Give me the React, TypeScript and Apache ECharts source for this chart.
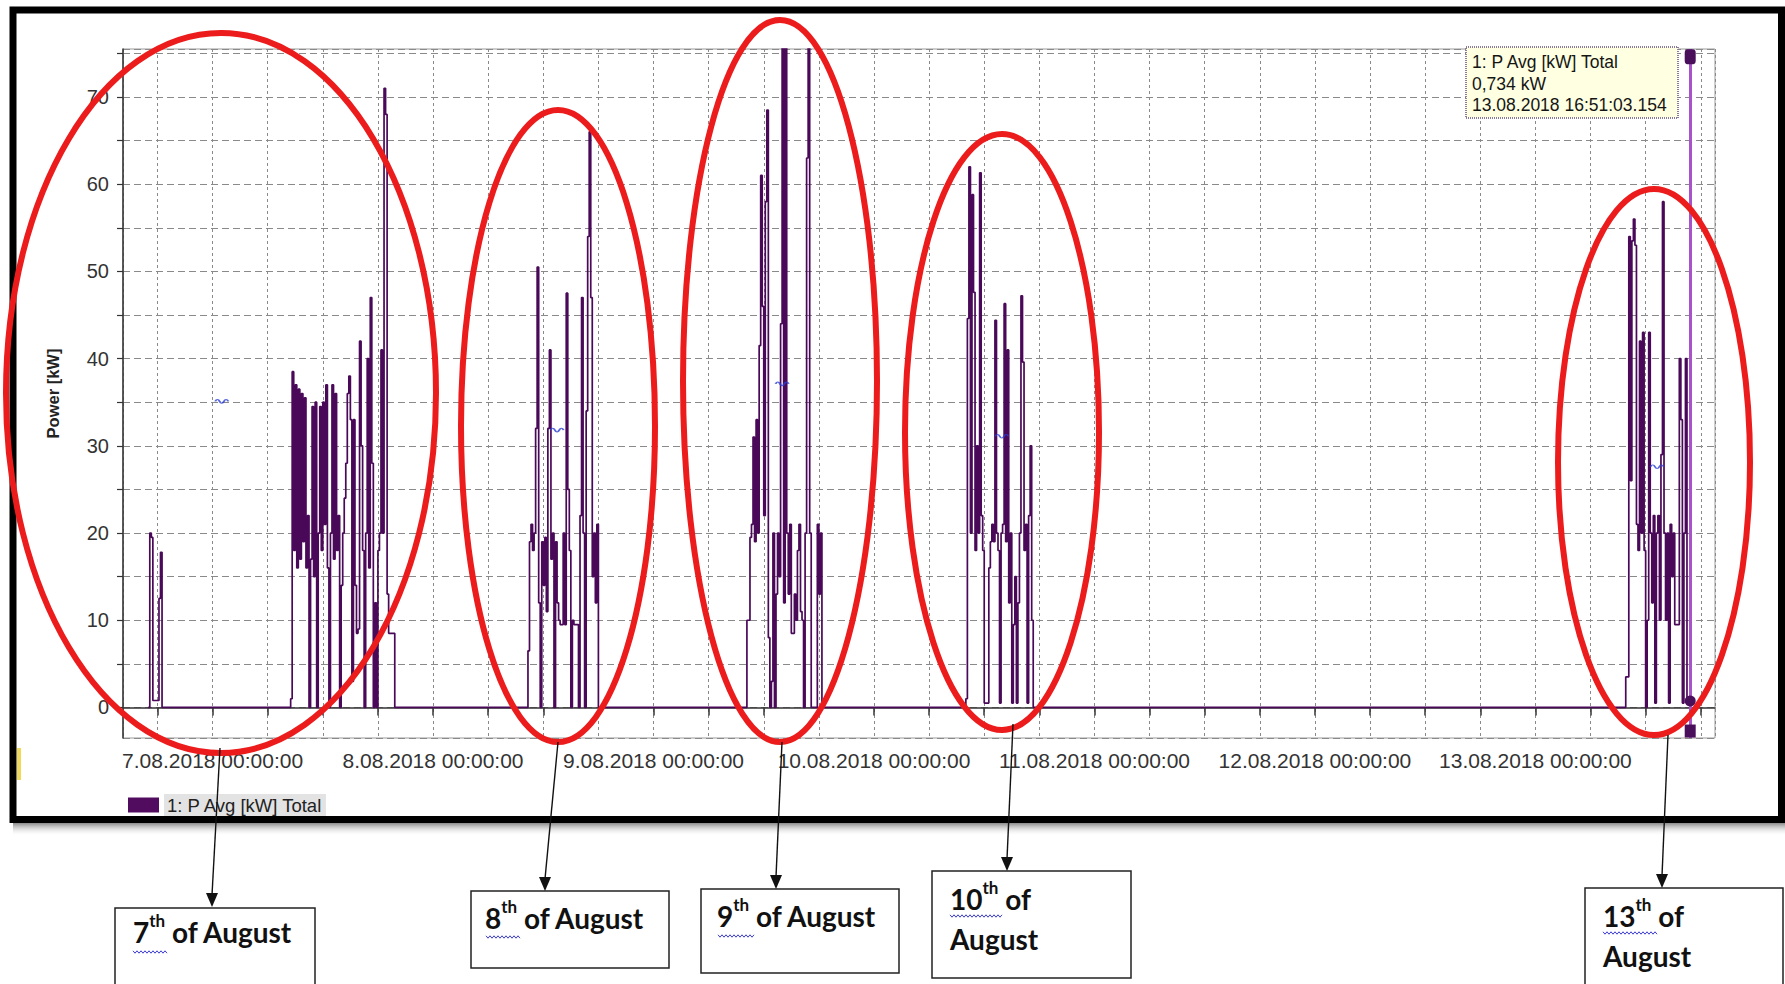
import React, { useEffect, useRef } from 'react';
import * as echarts from 'echarts';

// ---------------- data ----------------
const SERIES_NAME = '1: P Avg [kW] Total';
const STEP_MINUTES = 10;

const aug06Start = '2018-08-06 17:00';
const aug06Values = [0, 20, 19.5, 0.8, 0.8, 0.8, 0.8, 12.5, 17.8, 0];

const aug07Start = '2018-08-07 08:20';
const aug07Values = [
  0, 1.0, 38.5, 18, 37, 16, 36.5, 17, 36, 19,
  35.5, 16, 22, 0, 17, 34.5, 15, 35, 0, 20,
  34.5, 18, 35, 21, 37, 16, 0, 20, 37, 17,
  36, 18, 22, 0, 14, 20, 24, 28, 36, 38,
  33, 3, 33, 14, 8.5, 9, 42, 30, 18, 0,
  20, 40, 16, 47, 28, 0, 12, 0, 18, 20,
  41, 20, 71, 68, 13, 8.5, 8.5, 8.5, 8.5, 0,
];

const aug08Start = '2018-08-08 10:10';
const aug08Values = [
  0, 6.5, 19, 21, 18, 20, 32, 50.5, 12, 0,
  19, 14, 19.5, 11, 32, 41, 17, 20, 0, 19,
  12, 10, 9.5, 9.5, 20, 9.5, 47.5, 25, 18, 0,
  10, 9.5, 9.5, 9.5, 0, 22, 47, 20, 0, 34,
  54, 66, 47, 15, 20, 12, 21, 0,
];

const aug09Start = '2018-08-09 10:00';
const aug09Values = [
  0, 10, 10, 19.5, 21, 31, 19, 33, 20, 41.5,
  61, 46, 22, 58, 68.5, 8, 0, 3, 20, 0,
  13, 20, 15, 44, 78, 12, 78, 20, 13, 21,
  8.5, 8.5, 13, 10, 18, 21, 11, 10, 0, 20,
  63, 78, 20, 0, 0, 0, 0, 21, 13, 20,
  0,
];

const aug10Start = '2018-08-10 09:50';
const aug10Values = [
  0, 1, 44.6, 62, 20, 58.8, 47.6, 18, 30, 20,
  61.3, 22, 18, 0.5, 0.5, 0.5, 16, 19, 21, 19,
  44.4, 20, 18, 0.5, 20, 21, 46.3, 19, 41, 12,
  20, 0.5, 9.5, 15, 0.5, 12, 20, 47.2, 39.6, 18,
  21, 0.5, 22, 30, 10, 0,
];

const aug13Start = '2018-08-13 09:40';
const aug13Values = [
  0, 3.5, 3.5, 54, 26, 53.5, 56, 53, 21, 18,
  42, 20, 43, 18, 0, 10, 43, 20, 12, 22,
  0.5, 20, 22, 10, 29, 58, 20, 10, 20, 0.5,
  21, 15, 20, 9.5, 9.5, 9.5, 40, 33, 0.5, 20,
  40, 0.5, 1,
];

const cursorTime = '2018-08-13 16:51:03';
const cursorValue = 0.734;

const avgTimes = ['2018-08-07 01:00', '2018-08-08 13:30', '2018-08-09 14:00', '2018-08-10 13:55', '2018-08-13 13:15'];
const avgValues = [35.1, 31.8, 37.1, 31.1, 27.6];

const xMinTime = '2018-08-06 14:15';
const xMaxTime = '2018-08-13 19:33';
const yMin = -3.5;
const yMax = 75.5;

const tooltipLines = ['1: P Avg [kW] Total', '0,734 kW', '13.08.2018 16:51:03.154'];

// ---------------- helpers ----------------
function parseTime(s: string): number {
  const [d, t] = s.split(' ');
  const [Y, M, D] = d.split('-').map(Number);
  const parts = t.split(':').map(Number);
  return new Date(Y, M - 1, D, parts[0], parts[1], parts[2] || 0).getTime();
}

const bursts: [string, number[]][] = [
  [aug06Start, aug06Values],
  [aug07Start, aug07Values],
  [aug08Start, aug08Values],
  [aug09Start, aug09Values],
  [aug10Start, aug10Values],
  [aug13Start, aug13Values],
];

function buildSeriesData(): [number, number][] {
  const pts: [number, number][] = [];
  bursts.forEach(([start, vals]) => {
    const t0 = parseTime(start);
    vals.forEach((v, i) => pts.push([t0 + i * STEP_MINUTES * 60000, v]));
  });
  pts.push([parseTime(cursorTime) + 154, cursorValue]);
  return pts;
}

const RED = '#ec1c1c';
const FONT = 'Liberation Sans, Arial, sans-serif';
const NOTE_FONT = 'Lato, Open Sans, sans-serif';

function wavy(x1: number, x2: number, y: number) {
  const pts: number[][] = [];
  let up = true;
  for (let x = x1; x <= x2; x += 2) {
    pts.push([x, up ? y - 1.2 : y + 1.2]);
    up = !up;
  }
  return { type: 'polyline', z: 130, shape: { points: pts }, style: { stroke: '#3b3bd6', lineWidth: 1, fill: 'none' } };
}

function arrow(x1: number, y1: number, x2: number, y2: number) {
  return [
    { type: 'line', z: 125, shape: { x1, y1, x2, y2: y2 - 12 }, style: { stroke: '#111', lineWidth: 1.4 } },
    { type: 'polygon', z: 125, shape: { points: [[x2 - 6, y2 - 14], [x2 + 6, y2 - 14], [x2, y2]] }, style: { fill: '#111' } },
  ];
}

function box(x: number, y: number, w: number, h: number) {
  return { type: 'rect', z: 120, shape: { x, y, width: w, height: h }, style: { fill: '#fff', stroke: '#222', lineWidth: 1.5 } };
}

const richNote = {
  a: { fontSize: 28, fontWeight: 'bold', fontFamily: NOTE_FONT, fill: '#111', lineHeight: 40, verticalAlign: 'middle' },
  b: { fontSize: 17, fontWeight: 'bold', fontFamily: NOTE_FONT, fill: '#111', lineHeight: 24, verticalAlign: 'top' },
};

function note(x: number, y: number, text: string) {
  return { type: 'text', z: 130, x, y, style: { text, rich: richNote, align: 'left', verticalAlign: 'middle' } };
}

function ellipse(cx: number, cy: number, rx: number, ry: number) {
  return { type: 'ellipse', z: 110, shape: { cx, cy, rx, ry }, style: { fill: 'none', stroke: RED, lineWidth: 6 } };
}

function buildGraphic() {
  const els: any[] = [];
  els.push({
    type: 'rect', z: 90, shape: { x: 13, y: 823, width: 1772, height: 13 },
    style: { fill: new echarts.graphic.LinearGradient(0, 0, 0, 1, [{ offset: 0, color: '#8a8a8a' }, { offset: 1, color: 'rgba(255,255,255,0)' }]) },
  });
  els.push({ type: 'rect', z: 100, shape: { x: 13, y: 10, width: 1768.5, height: 809.5 }, style: { fill: 'none', stroke: '#000', lineWidth: 7 } });
  els.push({ type: 'rect', z: 101, shape: { x: 17, y: 748, width: 4, height: 32 }, style: { fill: '#f0d85a' } });

  els.push({ type: 'rect', z: 105, shape: { x: 1466, y: 47, width: 212, height: 71 }, style: { fill: '#ffffe1', stroke: '#8b7b9b', lineWidth: 2, lineDash: [1, 1] } });
  tooltipLines.forEach((t, i) => {
    els.push({ type: 'text', z: 106, x: 1472, y: 62 + i * 21.5, style: { text: t, fontSize: 17.5, fontFamily: FONT, fill: '#151515', align: 'left', verticalAlign: 'middle' } });
  });

  els.push(ellipse(221, 393, 215, 360));
  els.push(ellipse(558, 426, 97, 316));
  els.push(ellipse(780, 381, 97, 361));
  els.push(ellipse(1002, 432, 97, 298));
  els.push(ellipse(1654, 462, 96, 273));

  els.push(...arrow(220, 748, 212, 907));
  els.push(...arrow(558, 742, 545, 891));
  els.push(...arrow(782, 742, 776, 889));
  els.push(...arrow(1013, 724, 1007, 871));
  els.push(...arrow(1668, 735, 1662, 888));

  els.push(box(115, 908, 200, 100));
  els.push(box(471, 891, 198, 77));
  els.push(box(701, 889, 198, 84));
  els.push(box(932, 871, 199, 107));
  els.push(box(1585, 888, 198, 120));

  els.push(note(133, 932, '{a|7}{b|th}{a| of August}'));
  els.push(note(485, 918, '{a|8}{b|th}{a| of August}'));
  els.push(note(717, 916, '{a|9}{b|th}{a| of August}'));
  els.push(note(950, 919, '{a|10}{b|th}{a| of}\n{a|August}'));
  els.push(note(1603, 936, '{a|13}{b|th}{a| of}\n{a|August}'));

  els.push(wavy(133, 168, 952));
  els.push(wavy(486, 521, 937));
  els.push(wavy(718, 754, 936));
  els.push(wavy(950, 1003, 916));
  els.push(wavy(1603, 1657, 933));
  return els;
}

function buildOption(): any {
  const data = buildSeriesData();
  const tCursor = parseTime(cursorTime) + 154;
  return {
    animation: false,
    backgroundColor: '#ffffff',
    textStyle: { fontFamily: FONT },
    grid: { left: 123, top: 49, width: 1592, height: 689, show: true, borderColor: '#9a9a9a', borderWidth: 1, backgroundColor: '#ffffff' },
    legend: {
      data: [SERIES_NAME],
      left: 123,
      top: 789,
      icon: 'rect',
      itemWidth: 31,
      itemHeight: 15,
      textStyle: { fontSize: 18.5, color: '#222', fontFamily: FONT, backgroundColor: '#e3e3e3', padding: [2, 3, 1, 3] },
    },
    xAxis: {
      type: 'time',
      min: parseTime(xMinTime),
      max: parseTime(xMaxTime),
      minInterval: 12 * 3600 * 1000,
      maxInterval: 12 * 3600 * 1000,
      splitNumber: 15,
      axisLine: { show: true, lineStyle: { color: '#333', width: 1.5 } },
      axisTick: { show: true, length: 8, lineStyle: { color: '#333', width: 1.5 } },
      axisLabel: {
        show: true,
        color: '#333',
        fontSize: 21,
        fontFamily: FONT,
        margin: 12,
        hideOverlap: false,
        showMinLabel: false,
        showMaxLabel: false,
        formatter: (val: number) => {
          const d = new Date(val);
          if (d.getHours() === 0 && d.getMinutes() === 0 && d.getSeconds() === 0) {
            return `${d.getDate()}.${String(d.getMonth() + 1).padStart(2, '0')}.${d.getFullYear()} 00:00:00`;
          }
          return '';
        },
      },
      splitLine: { show: true, lineStyle: { color: '#8a8a8a', width: 1, type: [3, 3] } },
    },
    yAxis: {
      type: 'value',
      min: yMin,
      max: yMax,
      splitNumber: 16,
      minInterval: 5,
      maxInterval: 5,
      name: 'Power [kW]',
      nameLocation: 'middle',
      nameGap: 62,
      nameRotate: 90,
      nameTextStyle: { fontSize: 16.5, fontWeight: 'bold', color: '#222', fontFamily: FONT },
      axisLine: { show: true, lineStyle: { color: '#333', width: 1.5 } },
      axisTick: { show: true, length: 6, lineStyle: { color: '#333', width: 1.2 } },
      axisLabel: {
        color: '#333',
        fontSize: 20,
        fontFamily: FONT,
        margin: 14,
        showMinLabel: false,
        showMaxLabel: false,
        formatter: (v: number) => (Math.abs(v % 10) < 1e-9 ? String(v) : ''),
      },
      splitLine: { show: true, lineStyle: { color: '#8a8a8a', width: 1, type: [7, 4] } },
    },
    series: [
      {
        type: 'line',
        name: SERIES_NAME,
        data,
        step: 'end',
        showSymbol: false,
        symbol: 'none',
        clip: true,
        lineStyle: { color: '#4a0858', width: 1.7 },
        itemStyle: { color: '#520c5f' },
        z: 3,
        markLine: {
          silent: true,
          symbol: ['none', 'none'],
          label: { show: false },
          lineStyle: { color: '#a853c9', width: 3, type: 'solid' },
          data: [{ xAxis: tCursor }],
        },
        markPoint: {
          silent: true,
          label: { show: false },
          data: [
            { coord: [tCursor, 74.6], symbol: 'roundRect', symbolSize: [11, 15], itemStyle: { color: '#4a0f5a' } },
            { coord: [tCursor, cursorValue], symbol: 'circle', symbolSize: 11, itemStyle: { color: '#4a0f5a' } },
            { coord: [tCursor, -2.7], symbol: 'rect', symbolSize: [11, 13], itemStyle: { color: '#4a0f5a' } },
          ],
        },
      },
      {
        type: 'scatter',
        name: 'avg',
        silent: true,
        data: avgTimes.map((t, i) => [parseTime(t), avgValues[i]]),
        symbol: 'path://M0,5 C1.5,0 3,0 4.5,5 C6,10 7.5,10 9,5 C10.5,0 12,0 13.5,5',
        symbolSize: [13, 4],
        itemStyle: { color: 'transparent', borderColor: '#2a3fd6', borderWidth: 1.2 },
        z: 4,
      },
    ],
    graphic: { elements: buildGraphic() },
  };
}

export default function App() {
  const ref = useRef<HTMLDivElement>(null);
  useEffect(() => {
    const el = ref.current;
    if (!el) return;
    const chart = echarts.init(el, undefined, { renderer: 'svg' });
    chart.setOption(buildOption());
    return () => chart.dispose();
  }, []);
  return (
    <div
      ref={ref}
      style={{ position: 'fixed', left: 0, top: 0, width: 1785, height: 984, background: '#ffffff' }}
    />
  );
}
